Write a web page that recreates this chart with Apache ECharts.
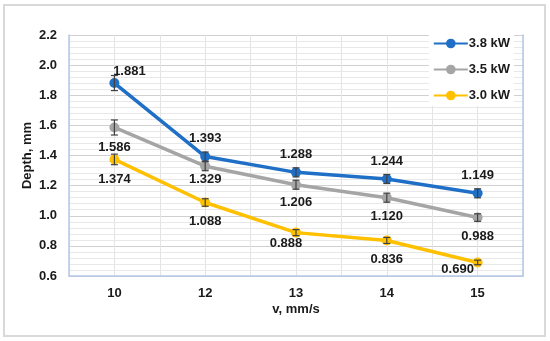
<!DOCTYPE html>
<html><head><meta charset="utf-8">
<script src="https://cdn.jsdelivr.net/npm/echarts@6/dist/echarts.min.js"></script>
<style>html,body{margin:0;padding:0;background:#fff}#c{width:550px;height:341px}</style>
</head><body><div id="c"></div>
<script>
var categories = ['10', '12', '13', '14', '15'];
var seriesNames = ['3.8 kW', '3.5 kW', '3.0 kW'];
var depth38 = [1.881, 1.393, 1.288, 1.244, 1.149];
var depth35 = [1.586, 1.329, 1.206, 1.120, 0.988];
var depth30 = [1.374, 1.088, 0.888, 0.836, 0.690];
var err38 = [0.05, 0.03, 0.03, 0.03, 0.03];
var err35 = [0.05, 0.03, 0.03, 0.03, 0.025];
var err30 = [0.035, 0.025, 0.02, 0.02, 0.015];
var yTicks = [0.6, 2.2, 0.2];

var colors = ['#1f6fc6', '#a5a5a5', '#ffc000'];
var labelOffsets = [
  [[15,-12],[0,-18],[0,-18],[0,-18],[0,-18]],
  [[0,20],[0,13],[0,18],[0,19],[0,19]],
  [[0,20],[0,19],[-10,11],[0,19],[-20,7]]
];
var FONT = 'Liberation Sans';
var values = [depth38, depth35, depth30];
var errs = [err38, err35, err30];

function lineSeries(i) {
  return {
    name: seriesNames[i], type: 'line', xAxisIndex: 0, yAxisIndex: 0,
    data: values[i].map(function (v, j) {
      return { value: v, label: { offset: labelOffsets[i][j] } };
    }),
    symbol: 'circle', symbolSize: 10,
    lineStyle: { color: colors[i], width: 3.5 },
    itemStyle: { color: colors[i] },
    label: { show: true, position: 'inside', color: '#1a1a1a', fontFamily: FONT,
      fontWeight: 'bold', fontSize: 13,
      formatter: function (p) { return p.value.toFixed(3); } },
    z: 3
  };
}
function errSeries(i) {
  return {
    type: 'custom', xAxisIndex: 0, yAxisIndex: 0, z: 5, silent: true,
    data: values[i].map(function (v, j) { return [j, v - errs[i][j], v + errs[i][j]]; }),
    renderItem: function (params, api) {
      var lo = api.coord([api.value(0), api.value(1)]);
      var hi = api.coord([api.value(0), api.value(2)]);
      var w = 3.5;
      var st = { stroke: '#404040', lineWidth: 1.2 };
      return { type: 'group', children: [
        { type: 'line', shape: { x1: lo[0], y1: lo[1], x2: hi[0], y2: hi[1] }, style: st },
        { type: 'line', shape: { x1: lo[0]-w, y1: lo[1], x2: lo[0]+w, y2: lo[1] }, style: st },
        { type: 'line', shape: { x1: hi[0]-w, y1: hi[1], x2: hi[0]+w, y2: hi[1] }, style: st }
      ]};
    }
  };
}

var chart = echarts.init(document.getElementById('c'), null, { renderer: 'canvas' });
chart.setOption({
  animation: false,
  backgroundColor: '#fff',
  graphic: [{ type: 'rect', shape: { x: 4, y: 5, width: 541, height: 331 },
    style: { fill: 'none', stroke: '#d9d9d9', lineWidth: 2 }, z: -10 }],
  grid: { left: 69, right: 27, top: 35, bottom: 65 },
  legend: {
    data: seriesNames, orient: 'vertical', right: 36, top: 33,
    itemWidth: 34, itemHeight: 12, itemGap: 13,
    backgroundColor: '#fff', padding: [4, 4, 4, 4],
    textStyle: { fontFamily: FONT, fontWeight: 'bold', fontSize: 13, color: '#1a1a1a', padding: [0,0,0,-4] }
  },
  xAxis: [{
    type: 'category', data: categories, boundaryGap: true,
    name: 'v, mm/s', nameLocation: 'middle', nameGap: 27, nameMoveOverlap: false,
    nameTextStyle: { fontFamily: FONT, fontWeight: 'bold', fontSize: 13, color: '#1a1a1a' },
    axisLine: { lineStyle: { color: '#b4c7e7', width: 1.5 } },
    axisTick: { show: false },
    axisLabel: { fontFamily: FONT, fontWeight: 'bold', fontSize: 13, color: '#1a1a1a', margin: 11 },
    splitLine: { show: true, lineStyle: { color: '#d0d0d0' } }
  }, {
    type: 'value', min: 0, max: 10, interval: 1, position: 'bottom',
    axisLine: { show: false }, axisTick: { show: false }, axisLabel: { show: false },
    splitLine: { show: true, lineStyle: { color: '#e4e4e4' } }
  }],
  yAxis: [{
    type: 'value', min: yTicks[0], max: yTicks[1], interval: yTicks[2],
    name: 'Depth, mm', nameLocation: 'middle', nameGap: 35, nameMoveOverlap: false,
    nameTextStyle: { fontFamily: FONT, fontWeight: 'bold', fontSize: 13, color: '#1a1a1a' },
    axisLine: { show: true, lineStyle: { color: '#b4c7e7', width: 1.5 } },
    axisTick: { show: false },
    axisLabel: { fontFamily: FONT, fontWeight: 'bold', fontSize: 13, color: '#1a1a1a', margin: 12,
      formatter: function (v) { return v.toFixed(1); } },
    splitLine: { show: true, lineStyle: { color: '#d0d0d0' } },
    minorTick: { show: false, splitNumber: 5 },
    minorSplitLine: { show: true, lineStyle: { color: '#e8e8e8' } }
  }, {
    type: 'value', min: yTicks[0], max: yTicks[1], interval: yTicks[2], position: 'right',
    axisLine: { show: true, lineStyle: { color: '#b4c7e7', width: 1.5 } },
    axisTick: { show: false }, axisLabel: { show: false }, splitLine: { show: false }
  }],
  series: [lineSeries(0), lineSeries(1), lineSeries(2), errSeries(0), errSeries(1), errSeries(2)]
});
</script></body></html>
